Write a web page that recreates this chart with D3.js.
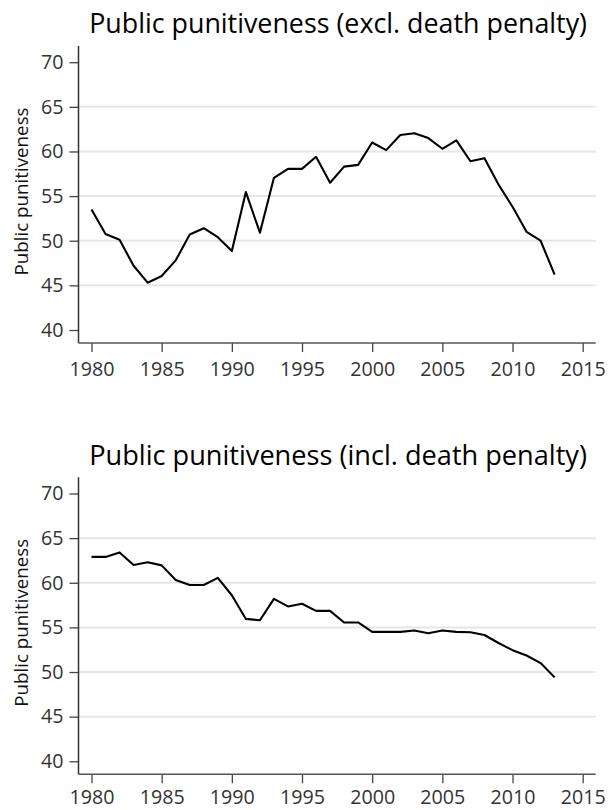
<!DOCTYPE html>
<html>
<head>
<meta charset="utf-8">
<script src="https://cdn.jsdelivr.net/npm/d3@7"></script>
<style>
  body { margin: 0; background: #fff; }
  svg { display: block; font-family: "Open Sans", sans-serif; }
  .tick text { fill: #333; font-family: "Open Sans", sans-serif; }
  .grid line { stroke: #e6e6e6; stroke-width: 2; }
</style>
</head>
<body>
<svg id="chart" width="609" height="810"></svg>
<script>
// data
const years = d3.range(1980, 2014);
const excl_death = [53.5, 50.75, 50.1, 47.2, 45.3, 46.05, 47.8, 50.7, 51.4, 50.4,
                    48.85, 55.45, 50.9, 57.05, 58.05, 58.05, 59.4, 56.5, 58.3, 58.5,
                    61.0, 60.15, 61.85, 62.05, 61.5, 60.3, 61.25, 58.9, 59.25, 56.3,
                    53.8, 51.0, 50.0, 46.2];
const incl_death = [62.9, 62.9, 63.4, 62.0, 62.3, 61.95, 60.3, 59.75, 59.75, 60.55,
                    58.6, 55.95, 55.8, 58.2, 57.35, 57.65, 56.85, 56.85, 55.55, 55.55,
                    54.5, 54.5, 54.5, 54.65, 54.35, 54.65, 54.5, 54.45, 54.15, 53.25,
                    52.45, 51.85, 51.0, 49.4];
const xTicks = [1980, 1985, 1990, 1995, 2000, 2005, 2010, 2015];
const yTicks = [40, 45, 50, 55, 60, 65, 70];
const gridTicks = [45, 50, 55, 60, 65];
const titles = ["Public punitiveness (excl. death penalty)", "Public punitiveness (incl. death penalty)"];
const yLabel = "Public punitiveness";

const svg = d3.select("#chart");
const axisLeftX = 78.5;
const axisRightX = 595.7;
const panelTops = [46, 477.3];
const xPadding = [10, 7];

const xScale = d3.scaleLinear()
                .domain([1980, 2015])
                .range([91.5, 582.7]);

// shrink or grow a text until it is as wide as in the picture
function fitWidth(sel, target) {
    const fs = +sel.attr("font-size");
    const len = sel.node().getComputedTextLength();
    if (len > 0) sel.attr("font-size", fs * target / len);
}

function panel(top, values, title, pad) {
    const yScale = d3.scaleLinear()
                    .domain([40, 70])
                    .range([top + 284, top + 16.2]);
    const bottom = yScale(40) + 13;

    const g = svg.append("g");

    // gridlines
    g.append("g")
        .attr("class", "grid")
        .selectAll("line")
        .data(gridTicks)
        .join("line")
        .attr("x1", axisLeftX)
        .attr("x2", axisRightX)
        .attr("y1", d => yScale(d))
        .attr("y2", d => yScale(d));

    // axes
    const leftAxis = d3.axisLeft(yScale).tickValues(yTicks).tickSize(9).tickPadding(6);
    const gy = g.append("g")
        .attr("transform", "translate(" + axisLeftX + ",0)")
        .call(leftAxis)
        .call(a => a.select(".domain").remove())
        .call(a => a.selectAll(".tick line").attr("stroke", "#444").attr("stroke-width", 1.3));

    const bottomAxis = d3.axisBottom(xScale).tickValues(xTicks).tickFormat(d3.format("d")).tickSize(9).tickPadding(pad);
    const gx = g.append("g")
        .attr("transform", "translate(0," + bottom + ")")
        .call(bottomAxis)
        .call(a => a.select(".domain").remove())
        .call(a => a.selectAll(".tick line").attr("stroke", "#444").attr("stroke-width", 1.3));

    // tick labels sized so "1980" is 45px wide, as in the picture
    gx.selectAll(".tick text").attr("font-size", 20);
    gy.selectAll(".tick text").attr("font-size", 20);
    const probe = gx.select(".tick text");
    const k = 45 / probe.node().getComputedTextLength();
    gx.selectAll(".tick text").attr("font-size", 20 * k);
    gy.selectAll(".tick text").attr("font-size", 20 * k);

    g.append("line")
        .attr("x1", axisLeftX).attr("x2", axisLeftX)
        .attr("y1", top).attr("y2", bottom)
        .attr("stroke", "#333").attr("stroke-width", 1.5);
    g.append("line")
        .attr("x1", axisLeftX).attr("x2", axisRightX)
        .attr("y1", bottom).attr("y2", bottom)
        .attr("stroke", "#555").attr("stroke-width", 1.5);

    // series
    const line = d3.line()
                .x((d, i) => xScale(years[i]))
                .y(d => yScale(d));
    g.append("path")
        .datum(values)
        .attr("fill", "none")
        .attr("stroke", "#000")
        .attr("stroke-width", 2.1)
        .attr("stroke-linejoin", "round")
        .attr("d", line);

    // title
    const t = g.append("text")
        .attr("x", (axisLeftX + axisRightX) / 2 + 1)
        .attr("y", top - 12.6)
        .attr("text-anchor", "middle")
        .attr("font-size", 26.5)
        .attr("fill", "#000")
        .text(title);
    fitWidth(t, 498);

    // y label
    const midY = (top + bottom) / 2 - 3;
    const yl = g.append("text")
        .attr("transform", "translate(28," + midY + ") rotate(-90)")
        .attr("text-anchor", "middle")
        .attr("font-size", 18.5)
        .attr("fill", "#111")
        .text(yLabel);
    fitWidth(yl, 168);
}

panel(panelTops[0], excl_death, titles[0], xPadding[0]);
panel(panelTops[1], incl_death, titles[1], xPadding[1]);
</script>
</body>
</html>
